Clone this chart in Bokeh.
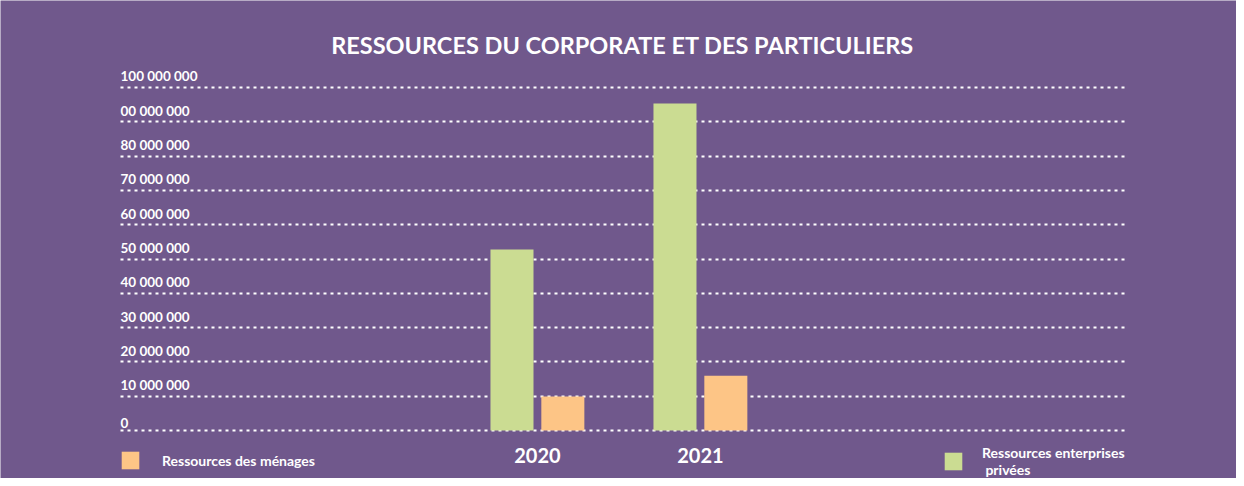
from bokeh.plotting import figure
from bokeh.models import (Range1d, Legend, LegendItem, FixedTicker,
                          ColumnDataSource, Label)
from bokeh.transform import dodge
from bokeh.core.properties import value
from bokeh.embed import file_html
from bokeh.resources import INLINE

# ---- data ----
years = ["2020", "2021"]
entreprises = [52.8e6, 95.3e6]   # Ressources enterprises privées
menages = [9.9e6, 16.0e6]        # Ressources des ménages
y_ticks = [0, 10e6, 20e6, 30e6, 40e6, 50e6, 60e6, 70e6, 80e6, 90e6, 100e6]
y_tick_labels = ["0", "10 000 000", "20 000 000", "30 000 000", "40 000 000",
                 "50 000 000", "60 000 000", "70 000 000", "80 000 000",
                 "00 000 000", "100 000 000"]
title_text = "RESSOURCES DU CORPORATE ET DES PARTICULIERS"
label_ent = "Ressources enterprises\n privées"
label_men = "Ressources des ménages"

# ---- style ----
BG = "#70588C"
GREEN = "#CBDC92"
ORANGE = "#FDC586"
FONT = "Lato"

idx = list(range(len(years)))
src = ColumnDataSource(dict(x=idx, year=years, ent=entreprises, men=menages))

# plotting area spans the whole canvas; grid lines limited horizontally
x_start, x_end = -3.294, 4.289
grid_x0, grid_x1 = -2.558, 3.626
y_start, y_end = -13.99e6, 125.36e6

p = figure(width=1236, height=478, output_backend="svg", toolbar_location=None,
           x_range=Range1d(x_start, x_end), y_range=Range1d(y_start, y_end),
           x_axis_location=None, y_axis_location=None,
           min_border_left=0, min_border_right=0, min_border_bottom=0,
           min_border_top=0, min_border=0)
p.background_fill_color = BG
p.border_fill_color = BG
p.outline_line_color = None

p.xgrid.visible = False
grid = p.ygrid[0]
grid.ticker = FixedTicker(ticks=y_ticks)
grid.grid_line_color = "white"
grid.grid_line_width = 2
grid.grid_line_dash = "3 4"
if "cross_bounds" in grid.properties():
    grid.cross_bounds = (grid_x0, grid_x1)
else:
    grid.visible = False
    p.segment(x0=[grid_x0] * len(y_ticks), x1=[grid_x1] * len(y_ticks),
              y0=y_ticks, y1=y_ticks, line_color="white", line_width=2,
              line_dash="3 4", level="underlay")

bw = 0.264
r_ent = p.vbar(x=dodge("x", -0.156, range=p.x_range), top="ent", width=bw,
               source=src, fill_color=GREEN, line_color=None)
r_men = p.vbar(x=dodge("x", 0.156, range=p.x_range), top="men", width=bw,
               source=src, fill_color=ORANGE, line_color=None)

# title
p.add_layout(Label(x=622, y=434, x_units="screen", y_units="screen",
                   text=title_text, text_align="center",
                   text_baseline="alphabetic", text_color="white",
                   text_font=FONT, text_font_style="bold",
                   text_font_size="23.5px"))

# y tick labels (left aligned, above grid lines)
p.text(x=[grid_x0] * len(y_ticks), y=y_ticks, text=y_tick_labels,
       text_color="white", text_font=value(FONT), text_font_style="bold",
       text_font_size="13.5px", text_align="left", text_baseline="bottom",
       y_offset=-3)

# category labels
p.text(x=idx, y=[-7.4e6] * len(years), text=years, text_color="white",
       text_font=value(FONT), text_font_style="bold", text_font_size="20px",
       text_align="center", text_baseline="middle")

common = dict(background_fill_alpha=0, border_line_color=None, padding=0,
              margin=0, glyph_width=22, glyph_height=22,
              label_text_color="white", label_text_font=FONT,
              label_text_font_style="bold", label_text_font_size="14px")
leg1 = Legend(items=[LegendItem(label=label_men, renderers=[r_men])],
              location=(119, 7), label_standoff=21, **common)
leg2 = Legend(items=[LegendItem(label=label_ent, renderers=[r_ent])],
              location=(942, 0), label_standoff=18, **common)
p.add_layout(leg1)
p.add_layout(leg2)

open("out.html", "w").write(file_html(p, INLINE))
